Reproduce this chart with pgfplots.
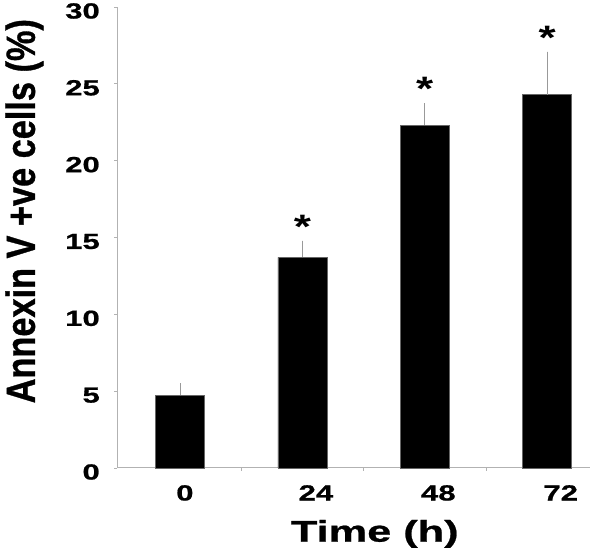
\documentclass[border=0pt]{standalone}
\usepackage{pgfplots}
\pgfplotsset{compat=1.18}
\usepackage{fontspec}
\setmainfont{Liberation Sans}
\newfontfamily\tickfont{Liberation Sans}[FakeStretch=1.42, FakeBold=0.8]
\newfontfamily\xlabfont{Liberation Sans}[FakeStretch=1.45, FakeBold=0.8]
\newfontfamily\starfont{Liberation Sans}[FakeStretch=1.3]
\newfontfamily\ylabfont{Liberation Sans}[FakeStretch=0.84, FakeBold=0.8]
\begin{document}
\begin{tikzpicture}[x=1bp,y=1bp]
\useasboundingbox (0,0) rectangle (600,554);
\begin{axis}[
  at={(117bp,86bp)}, anchor=south west,
  scale only axis, width=473bp, height=461bp,
  xmin=-0.515, xmax=3.35, ymin=0, ymax=30,
  clip=false,
  axis x line*=bottom, axis y line*=left,
  axis line style={draw=black!30, line width=1bp, -},
  xtick={0,1,2,3}, xticklabels={0,24,48,72},
  minor xtick={0.5,1.5,2.5},
  ytick={0,5,10,15,20,25,30},
  tick align=outside,
  major tick length=3bp, minor tick length=3bp,
  major x tick style={draw=none},
  minor x tick style={draw=black!30, line width=0.8bp},
  major y tick style={draw=black!30, line width=0.8bp},
  /pgf/number format/assume math mode=true,
  yticklabel style={font=\tickfont\bfseries\fontsize{22}{26}\selectfont, inner sep=0pt, xshift=-14bp, yshift=-4bp},
  xticklabel style={font=\tickfont\bfseries\fontsize{22}{26}\selectfont, inner sep=0pt, anchor=north west, xshift=-4bp, yshift=-14bp},
  xlabel={Time (h)},
  xlabel style={font=\xlabfont\bfseries\fontsize{30}{32}\selectfont, at={(axis description cs:0.545,-0.143)}, anchor=center},
  ylabel={Annexin V +ve cells (\%)},
  ylabel style={font=\ylabfont\bfseries\fontsize{41}{43}\selectfont, inner sep=0pt, at={(axis description cs:-0.196,0.557)}, anchor=center},
]
\addplot[ybar, bar width=0.4, fill=black, draw=black!60, line width=0.6bp,
  error bars/.cd, y dir=plus, y explicit,
  error bar style={draw=black!40, line width=0.8bp}, error mark=none]
  coordinates {(0,4.75) +- (0,0.75) (1,13.7) +- (0,1.1) (2,22.3) +- (0,1.45) (3,24.3) +- (0,2.8)};
\addplot[only marks, mark=text,
  text mark={\raisebox{-7bp}{\starfont\bfseries\fontsize{34}{36}\selectfont *}}]
  coordinates {(1,15.7) (2,24.7) (3,28.0)};
\end{axis}
\end{tikzpicture}
\end{document}
